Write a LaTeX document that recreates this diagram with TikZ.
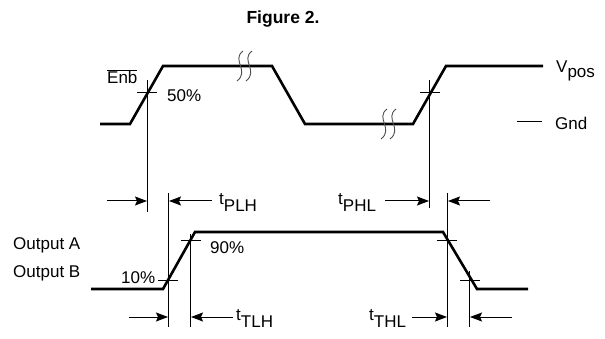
\documentclass[tikz,border=0pt]{standalone}
\usepackage{fontspec}
\setmainfont{Liberation Sans}
\usetikzlibrary{arrows.meta}
\begin{document}
\begin{tikzpicture}[x=1pt,y=-1pt,
  wave/.style={line width=2.6pt, line join=miter},
  thinline/.style={line width=1pt},
  dim/.style={line width=1pt,-{Stealth[length=12pt,width=9pt,inset=2pt]}},
  brk/.style={line width=0.9pt, black!70},
  lbl/.style={font=\fontsize{17}{20}\selectfont, inner sep=0pt},
]
\useasboundingbox (0,0) rectangle (605,339);
% title
\node[inner sep=0pt, anchor=base, font=\fontsize{17.5}{20}\selectfont\bfseries] (title) at (283,24) {Figure 2.};
% enable waveform
\draw[wave] (100,124) -- (130,124) -- (163,66) -- (272,66) -- (305,124) -- (413,124) -- (446,66) -- (543,66);
% break symbols
\draw[brk] (243,51) .. controls (231,60) and (250,71) .. (237,81);
\draw[brk] (252,51) .. controls (240,60) and (259,71) .. (246,81);
\draw[brk] (387,109) .. controls (375,118) and (394,129) .. (381,139);
\draw[brk] (396,109) .. controls (384,118) and (403,129) .. (390,139);
% output waveform
\draw[wave] (91,289) -- (163,289) -- (195,232) -- (443,232) -- (477,289) -- (528,289);
% ticks
\draw[thinline] (137,93) -- (157,93);
\draw[thinline] (420,93) -- (440,93);
\draw[thinline] (181,241) -- (201,241);
\draw[thinline] (158,280) -- (178,280);
\draw[thinline] (437,241) -- (457,241);
\draw[thinline] (460,280) -- (480,280);
% vertical reference lines
\coordinate (v1t) at (147,80);  \coordinate (v1b) at (147,212);
\coordinate (v2t) at (168,193); \coordinate (v2b) at (168,327);
\coordinate (v3t) at (190,234); \coordinate (v3b) at (190,327);
\coordinate (v4t) at (429,80);  \coordinate (v4b) at (429,208);
\coordinate (v5t) at (447,193); \coordinate (v5b) at (447,327);
\coordinate (v6t) at (469,271); \coordinate (v6b) at (469,327);
\foreach \v in {1,...,6} \draw[thinline] (v\v t) -- (v\v b);
% dimension arrows
\coordinate (a1s) at (107,201); \coordinate (a1e) at (147,201);
\coordinate (a2s) at (212,201); \coordinate (a2e) at (169,201);
\coordinate (a3s) at (385,201); \coordinate (a3e) at (429,201);
\coordinate (a4s) at (490,201); \coordinate (a4e) at (448,201);
\coordinate (a5s) at (129,317); \coordinate (a5e) at (168,317);
\coordinate (a6s) at (233,317); \coordinate (a6e) at (191,317);
\coordinate (a7s) at (412,317); \coordinate (a7e) at (447,317);
\coordinate (a8s) at (512,317); \coordinate (a8e) at (470,317);
\foreach \a in {1,...,8} \draw[dim] (a\a s) -- (a\a e);
% labels
\node[lbl, anchor=base west] (enb) at (107,84) {$\overline{\mbox{Enb}}$};
\node[lbl, anchor=base west] (p50) at (167,102) {50\%};
\node[lbl, anchor=base west] (vpos) at (556,73) {V\raisebox{-5pt}{pos}};
\coordinate (gd1) at (517,122); \coordinate (gd2) at (542,122);
\draw[thinline] (gd1) -- (gd2);
\node[lbl, anchor=base west] (gnd) at (555,130) {Gnd};
\node[lbl, anchor=base west] (tplh) at (219,205) {t\raisebox{-7pt}{PLH}};
\node[lbl, anchor=base west] (tphl) at (338,205) {t\raisebox{-7pt}{PHL}};
\node[lbl, anchor=base west] (outa) at (13,250) {Output A};
\node[lbl, anchor=base west] (outb) at (13,277) {Output B};
\node[lbl, anchor=base west] (p10) at (121,283) {10\%};
\node[lbl, anchor=base west] (p90) at (210,253) {90\%};
\node[lbl, anchor=base west] (ttlh) at (236,320) {t\raisebox{-7pt}{TLH}};
\node[lbl, anchor=base west] (tthl) at (369,320) {t\raisebox{-7pt}{THL}};
\end{tikzpicture}
\end{document}
